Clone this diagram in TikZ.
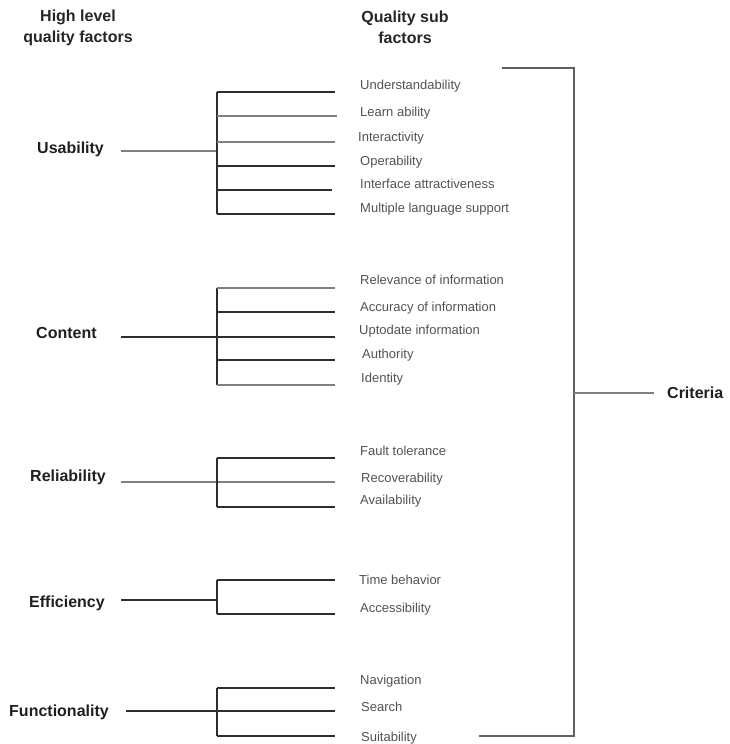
\documentclass[tikz,border=0pt]{standalone}
\usepackage{fontspec}
\setmainfont{Liberation Sans}
\begin{document}
\begin{tikzpicture}[x=1pt,y=-1pt,
  factor/.style={font=\fontsize{16}{18}\selectfont\bfseries, text=black!88, inner sep=0pt, anchor=mid west, yshift=-2.5pt},
  header/.style={font=\fontsize{16}{18}\selectfont\bfseries, text=black!85, inner sep=0pt, align=center},
  sub/.style={font=\fontsize{13}{15}\selectfont, text=black!68, inner sep=0pt, anchor=mid west, yshift=-2.5pt},
  dark/.style={draw=black!82, line width=1.3pt},
  light/.style={draw=black!50, line width=1.1pt},
  frame/.style={draw=black!62, line width=1.5pt},
]
\useasboundingbox (0,0) rectangle (729,744);

% column headers
\node[header] (h1) at (78,27.5) {High level\\[3pt]quality factors};
\node[header] (h2) at (405,27.5) {Quality sub\\[3pt]factors};

% ---------------- Usability ----------------
\node[factor] (usab) at (37,148) {Usability};
\node[sub] (u1) at (360,84)  {Understandability};
\node[sub] (u2) at (360,111) {Learn ability};
\node[sub] (u3) at (358,136) {Interactivity};
\node[sub] (u4) at (360,160) {Operability};
\node[sub] (u5) at (360,183) {Interface attractiveness};
\node[sub] (u6) at (360,207) {Multiple language support};
\coordinate (us) at (121,151);
\coordinate (ut) at (217,92);
\coordinate (ub) at (217,214);
\coordinate (ue1) at (335,92);
\coordinate (ue2) at (337,116);
\coordinate (ue3) at (335,142);
\coordinate (ue4) at (335,166);
\coordinate (ue5) at (332,190);
\coordinate (ue6) at (335,214);
\draw[light] (us) -- (us -| ut);
\draw[dark] (ut) -- (ub);
\draw[dark] (ut) -- (ue1);
\draw[light] (ut |- ue2) -- (ue2);
\draw[light] (ut |- ue3) -- (ue3);
\draw[dark] (ut |- ue4) -- (ue4);
\draw[dark] (ut |- ue5) -- (ue5);
\draw[dark] (ub) -- (ue6);

% ---------------- Content ----------------
\node[factor] (cont) at (36,333) {Content};
\node[sub] (c1) at (360,279) {Relevance of information};
\node[sub] (c2) at (360,306) {Accuracy of information};
\node[sub] (c3) at (359,329) {Uptodate information};
\node[sub] (c4) at (362,353) {Authority};
\node[sub] (c5) at (361,377) {Identity};
\coordinate (cs) at (121,337);
\coordinate (ct) at (217,288);
\coordinate (cb) at (217,385);
\coordinate (ce1) at (335,288);
\coordinate (ce2) at (335,312);
\coordinate (ce3) at (335,337);
\coordinate (ce4) at (335,360);
\coordinate (ce5) at (335,385);
\draw[dark] (cs) -- (ce3);
\draw[dark] (ct) -- (cb);
\draw[light] (ct) -- (ce1);
\draw[dark] (ct |- ce2) -- (ce2);
\draw[dark] (ct |- ce4) -- (ce4);
\draw[light] (cb) -- (ce5);

% ---------------- Reliability ----------------
\node[factor] (reli) at (30,476) {Reliability};
\node[sub] (r1) at (360,450) {Fault tolerance};
\node[sub] (r2) at (361,477) {Recoverability};
\node[sub] (r3) at (360,499) {Availability};
\coordinate (rs) at (121,482);
\coordinate (rt) at (217,458);
\coordinate (rb) at (217,507);
\coordinate (re1) at (335,458);
\coordinate (re2) at (335,482);
\coordinate (re3) at (335,507);
\draw[light] (rs) -- (re2);
\draw[dark] (rt) -- (rb);
\draw[dark] (rt) -- (re1);
\draw[dark] (rb) -- (re3);

% ---------------- Efficiency ----------------
\node[factor] (effi) at (29,602) {Efficiency};
\node[sub] (e1) at (359,579) {Time behavior};
\node[sub] (e2) at (360,607) {Accessibility};
\coordinate (es) at (121,600);
\coordinate (et) at (217,580);
\coordinate (eb) at (217,614);
\coordinate (ee1) at (335,580);
\coordinate (ee2) at (335,614);
\draw[dark] (es) -- (es -| et);
\draw[dark] (et) -- (eb);
\draw[dark] (et) -- (ee1);
\draw[dark] (eb) -- (ee2);

% ---------------- Functionality ----------------
\node[factor] (func) at (9,711) {Functionality};
\node[sub] (f1) at (360,679) {Navigation};
\node[sub] (f2) at (361,706) {Search};
\node[sub] (f3) at (361,736) {Suitability};
\coordinate (fs) at (126,711);
\coordinate (ft) at (217,688);
\coordinate (fb) at (217,736);
\coordinate (fe1) at (335,688);
\coordinate (fe2) at (335,711);
\coordinate (fe3) at (335,736);
\draw[dark] (fs) -- (fe2);
\draw[dark] (ft) -- (fb);
\draw[dark] (ft) -- (fe1);
\draw[dark] (fb) -- (fe3);

% ---------------- Criteria bracket ----------------
\node[factor] (crit) at (667,393) {Criteria};
\coordinate (kt) at (502,68);
\coordinate (ktr) at (574,68);
\coordinate (kbr) at (574,736);
\coordinate (kb) at (479,736);
\coordinate (kc) at (574,393);
\coordinate (kce) at (654,393);
\draw[frame] (kt) -- (ktr) -- (kbr) -- (kb);
\draw[light] (kc) -- (kce);
\end{tikzpicture}
\end{document}
